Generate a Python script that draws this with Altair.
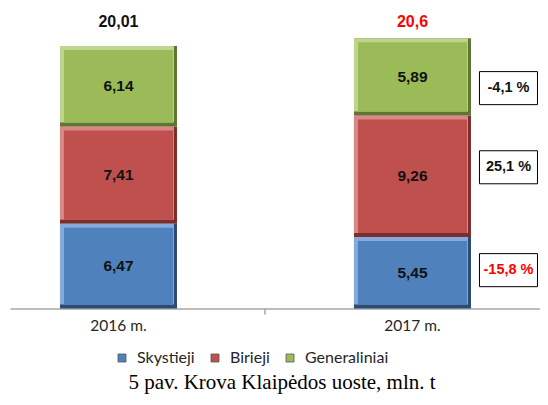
import altair as alt
import pandas as pd

years = ["2016 m.", "2017 m."]
categories = ["Skystieji", "Birieji", "Generaliniai"]
skystieji = [6.47, 5.45]
birieji = [7.41, 9.26]
generaliniai = [6.14, 5.89]
totals = [20.01, 20.6]
changes = [-15.8, 25.1, -4.1]  # 2017 change per category
caption = "5 pav. Krova Klaipėdos uoste, mln. t"

face = ["#4F81BD", "#C0504D", "#9BBB59"]
light = ["#86AADB", "#D88885", "#BDD58C"]
dark = ["#2C4A73", "#7A2F2D", "#5E7632"]

series = [skystieji, birieji, generaliniai]
rows = []
for ci, c in enumerate(categories):
    for yi, yr in enumerate(years):
        rows.append({"year": yr, "cat": c, "ord": ci, "v": series[ci][yi],
                     "chg": changes[ci] if yi == 1 else None})
df = pd.DataFrame(rows)
df_tot = pd.DataFrame({"year": years, "total": totals})

W, H = 530, 288.5

xscale = alt.Scale(domain=years, paddingInner=0.602, paddingOuter=0.2024, align=0.42)
X = alt.X("year:N", scale=xscale,
          axis=alt.Axis(title=None, labelAngle=0, ticks=False, domainColor="#A6A6A6",
                        domainWidth=1.5, labelFont="Lato", labelFontSize=15.5,
                        labelColor="#262626", labelPadding=10, grid=False))
yscale = alt.Scale(domain=[0, 22], nice=False, zero=True)
Y = alt.Y("y1:Q", scale=yscale, axis=None)
Y2 = alt.Y2("y0:Q")

base = alt.Chart(df).transform_stack(
    stack="v", as_=["y0", "y1"], groupby=["year"],
    sort=[alt.SortField("ord", order="ascending")]
).transform_calculate(mid="(datum.y0 + datum.y1) / 2")

outer = base.mark_bar(size=117).encode(
    x=X, y=Y, y2=Y2,
    color=alt.Color("cat:N", scale=alt.Scale(domain=categories, range=dark), legend=None))
hi = base.mark_bar(size=114, xOffset=-1.5, y2Offset=-4).encode(
    x=X, y=Y, y2=Y2,
    color=alt.Color("cat:N", scale=alt.Scale(domain=categories, range=light), legend=None))
facel = base.mark_bar(size=109, yOffset=4, y2Offset=-4).encode(
    x=X, y=Y, y2=Y2,
    color=alt.Color("cat:N", scale=alt.Scale(domain=categories, range=face),
                    legend=alt.Legend(orient="none", legendX=104, legendY=330,
                                      direction="horizontal", title=None,
                                      symbolType="square", symbolSize=64,
                                      symbolStrokeWidth=0.8, symbolStrokeColor="#555",
                                      labelFont="Lato", labelFontSize=16,
                                      labelColor="#262626", columnPadding=12,
                                      labelOffset=7)))

seg_text = base.mark_text(font="Liberation Sans", fontWeight="bold", fontSize=15.5,
                          color="#111111").encode(
    x=X, y=alt.Y("mid:Q", scale=yscale, axis=None),
    text="lab:N").transform_calculate(lab="replace(format(datum.v, '.2f'), '.', ',')")

tot_text = alt.Chart(df_tot).mark_text(font="Liberation Sans", fontWeight="bold",
                                       fontSize=16, baseline="middle").encode(
    x=X, y=alt.value(2), text="lab:N",
    color=alt.condition("datum.year == '2017 m.'", alt.value("#FF0000"), alt.value("#111111"))
).transform_calculate(lab="replace(toString(datum.total), '.', ',')")

chg = base.transform_filter("datum.year == '2017 m.'").transform_calculate(
    ly="datum.cat == 'Generaliniai' ? datum.mid - 0.85 : (datum.cat == 'Birieji' ? datum.mid + 0.69 : datum.mid + 0.2)")
box = chg.mark_point(shape="M-1,-0.57L1,-0.57L1,0.57L-1,0.57Z", size=58 * 58, filled=True,
                     fill="white", stroke="black", strokeWidth=1, opacity=1,
                     xOffset=96).encode(
    x=X, y=alt.Y("ly:Q", scale=yscale, axis=None))
chg_text = chg.mark_text(font="Liberation Sans", fontWeight="bold", fontSize=14.5,
                         dx=96).encode(
    x=X, y=alt.Y("ly:Q", scale=yscale, axis=None), text="lab:N",
    color=alt.condition("datum.cat == 'Skystieji'", alt.value("#FF0000"), alt.value("#111111"))
).transform_calculate(lab="replace(toString(datum.chg), '.', ',') + ' %'")

tick = alt.Chart(df_tot.head(1)).mark_rule(color="#A6A6A6", strokeWidth=1.5).encode(
    x=alt.value(255), y=alt.value(H), y2=alt.value(H + 6))

cap = alt.Chart(pd.DataFrame({"t": [caption]})).mark_text(
    font="Liberation Serif", fontSize=21, color="black").encode(
    x=alt.value(272), y=alt.value(363), text="t:N")

chart = alt.layer(outer, hi, facel, seg_text, tot_text, box, chg_text, tick, cap).properties(
    width=W, height=H,
    padding={"left": 2, "top": 12, "right": 0, "bottom": 88.5},
    autosize=alt.AutoSizeParams(type="none"),
).resolve_scale(color="independent").configure_view(stroke=None)

chart.save("out.html", embed_options={"renderer": "svg", "actions": False})
